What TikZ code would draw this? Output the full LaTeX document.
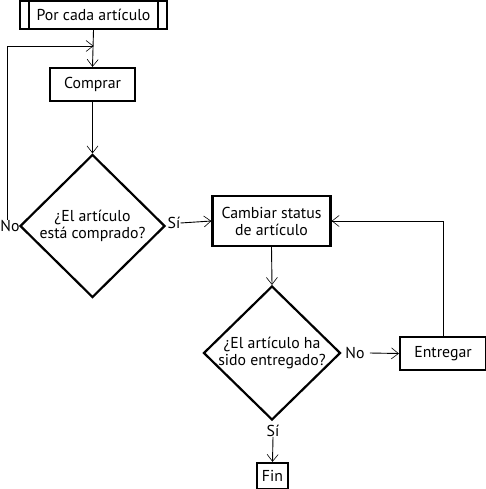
\documentclass[tikz,border=0pt]{standalone}
\usepackage{fontspec}
\setmainfont{PT Sans}
\usetikzlibrary{shapes.geometric,arrows.meta}
\begin{document}
\begin{tikzpicture}[x=1pt,y=-1pt,
  txt/.style={font=\fontsize{15.8}{17}\selectfont},
  box/.style={draw,line width=2.2pt,inner sep=0pt,align=center,txt},
  dec/.style={draw,diamond,line width=2.2pt,inner sep=0pt},
  dectext/.style={inner sep=0pt,align=center,txt},
  arr/.style={-{Straight Barb[length=7pt,width=11pt,line width=0.6pt]},line width=0.9pt},
  lbl/.style={inner sep=0pt,txt}]
\useasboundingbox (0,0) rectangle (486,489);
% start
\node[box,minimum width=147pt,minimum height=28pt] (por) at (93.5,15) {Por cada artículo};
\draw[line width=2.2pt] ([xshift=10pt]por.north west) -- ([xshift=10pt]por.south west)
  ([xshift=-10pt]por.north east) -- ([xshift=-10pt]por.south east);
\node[box,minimum width=85pt,minimum height=33pt] (comprar) at (92.5,84.5) {Comprar};
\node[dec,minimum width=145pt,minimum height=143pt] (d1) at (92.5,226) {};
\node[dectext] (t1) at (d1.center) {¿El artículo\\está comprado?};
\node[lbl] (no1) at (10,226) {No};
\node[lbl] (si1) at (174,223) {Sí};
\node[box,minimum width=118pt,minimum height=50pt] (cambiar) at (271.5,221) {Cambiar status\\de artículo};
\node[dec,minimum width=137pt,minimum height=134pt] (d2) at (272,353) {};
\node[dectext] (t2) at (d2.center) {¿El artículo ha\\sido entregado?};
\node[lbl] (no2) at (355,353) {No};
\node[box,minimum width=86pt,minimum height=33pt] (entregar) at (443,353.5) {Entregar};
\node[lbl] (si2) at (273,431) {Sí};
\node[box,minimum width=31pt,minimum height=26pt] (fin) at (272.5,476) {Fin};
\coordinate (j1) at (por.south |- 0,46);
% connectors
\draw[arr] (por.south) -- (comprar.north);
\draw[arr] ([xshift=-3pt]no1.north) |- (j1);
\draw[arr] (comprar.south) -- (d1.north);
\draw[arr] (si1.east) -- (cambiar.west);
\draw[arr] (cambiar.south) -- (d2.north);
\draw[arr] ([xshift=5pt]no2.east) -- (entregar.west);
\draw[arr] (entregar.north) |- (cambiar.east);
\draw[arr] (si2.south) -- (fin.north);
\end{tikzpicture}
\end{document}
